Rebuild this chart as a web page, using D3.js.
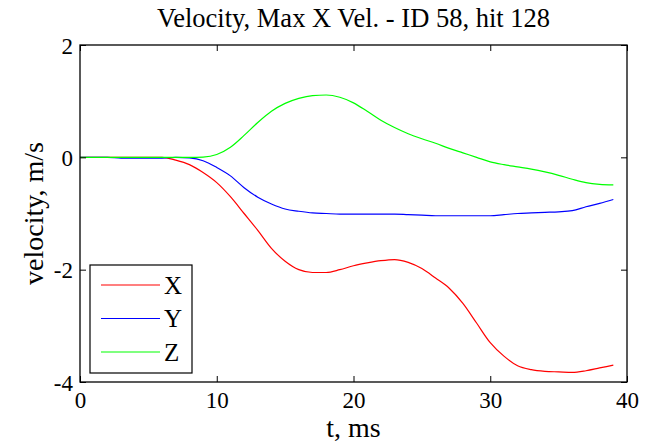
<!DOCTYPE html>
<html>
<head>
<meta charset="utf-8">
<script src="https://cdn.jsdelivr.net/npm/d3@7"></script>
<style>
  html, body { margin: 0; padding: 0; background: #fff; }
  svg { display: block; }
  svg text { font-family: "Liberation Serif", "Times New Roman", serif; fill: #000; }
</style>
</head>
<body>
<svg id="chart" width="646" height="444"></svg>
<script>
// Time samples, ms
const tMs = [0,1,2,3,4,5,6,7,8,9,10,11,12,13,14,15,16,17,18,19,20,21,22,23,24,25,26,27,28,29,30,31,32,33,34,35,36,37,38,39];

// Velocity components, m/s
const velX = [0,0,0,0,0,0,0,-0.05,-0.13,-0.27,-0.45,-0.70,-1.00,-1.30,-1.62,-1.85,-2.00,-2.05,-2.05,-2.00,
  -1.93,-1.88,-1.84,-1.82,-1.87,-1.98,-2.15,-2.33,-2.60,-2.95,-3.30,-3.54,-3.71,-3.78,-3.81,-3.82,-3.83,-3.80,-3.75,-3.70];
const velY = [0,0,0,-0.015,-0.015,-0.015,-0.015,0,-0.01,-0.06,-0.18,-0.33,-0.54,-0.71,-0.83,-0.92,-0.96,-0.99,-1.00,-1.01,
  -1.01,-1.01,-1.01,-1.01,-1.02,-1.03,-1.04,-1.04,-1.04,-1.04,-1.04,-1.02,-1.00,-0.99,-0.98,-0.97,-0.95,-0.88,-0.82,-0.75];
const velZ = [0,0,0,0,0,0,0,0,0,0.005,0.05,0.18,0.39,0.62,0.82,0.96,1.05,1.10,1.11,1.07,
  0.97,0.82,0.66,0.53,0.42,0.33,0.25,0.16,0.08,0.0,-0.08,-0.13,-0.17,-0.21,-0.26,-0.32,-0.39,-0.45,-0.48,-0.49];

const seriesNames = ["X", "Y", "Z"];
const seriesColors = ["#ff0000", "#0000ff", "#00ff00"];
const seriesValues = [velX, velY, velZ];

const xTicks = [0, 10, 20, 30, 40];
const yTicks = [-4, -2, 0, 2];

const titleText = "Velocity, Max X Vel. - ID 58, hit 128";
const xLabel = "t, ms";
const yLabel = "velocity, m/s";

const svg = d3.select("#chart");
const plot = { left: 80, right: 627, top: 45, bottom: 382 };

const x = d3.scaleLinear().domain([0, 40]).range([plot.left, plot.right]);
const y = d3.scaleLinear().domain([-4, 2]).range([plot.bottom, plot.top]);

// Data lines
const line = d3.line()
  .x(d => x(d[0]))
  .y(d => y(d[1]))
  .curve(d3.curveMonotoneX);

seriesValues.forEach((vals, i) => {
  svg.append("path")
    .datum(tMs.map((t, k) => [t, vals[k]]))
    .attr("fill", "none")
    .attr("stroke", seriesColors[i])
    .attr("stroke-width", 1.2)
    .attr("d", line);
});

// Axes box with inward ticks on all four sides
const tickLen = 6;
const tickFont = 23;
const plainNum = d => String(d);

const axBottom = d3.axisBottom(x).tickValues(xTicks).tickFormat(plainNum).tickSizeInner(-tickLen).tickSizeOuter(0);
const axTop = d3.axisTop(x).tickValues(xTicks).tickSizeInner(-tickLen).tickSizeOuter(0).tickFormat("");
const axLeft = d3.axisLeft(y).tickValues(yTicks).tickFormat(plainNum).tickSizeInner(-tickLen).tickSizeOuter(0);
const axRight = d3.axisRight(y).tickValues(yTicks).tickSizeInner(-tickLen).tickSizeOuter(0).tickFormat("");

function styleAxis(g) {
  g.attr("font-family", null).attr("font-size", null);
  g.select(".domain").remove();
  g.selectAll(".tick line").attr("stroke", "#000").attr("stroke-width", 1);
  g.selectAll(".tick text")
    .attr("fill", "#000")
    .style("font-family", "'Liberation Serif', 'Times New Roman', serif")
    .style("font-size", tickFont + "px");
}

svg.append("g").attr("transform", `translate(0,${plot.bottom})`).call(axBottom).call(styleAxis)
  .selectAll(".tick text").attr("dy", null).attr("y", 26);
svg.append("g").attr("transform", `translate(0,${plot.top})`).call(axTop).call(styleAxis);
svg.append("g").attr("transform", `translate(${plot.left},0)`).call(axLeft).call(styleAxis)
  .selectAll(".tick text").attr("x", -7).attr("dy", "0.36em");
svg.append("g").attr("transform", `translate(${plot.right},0)`).call(axRight).call(styleAxis);

svg.append("rect")
  .attr("x", plot.left).attr("y", plot.top)
  .attr("width", plot.right - plot.left).attr("height", plot.bottom - plot.top)
  .attr("fill", "none").attr("stroke", "#000").attr("stroke-width", 1.3);

// Title and axis labels
svg.append("text")
  .attr("x", (plot.left + plot.right) / 2).attr("y", 27)
  .attr("text-anchor", "middle").style("font-size", "26.5px")
  .text(titleText);

svg.append("text")
  .attr("x", (plot.left + plot.right) / 2).attr("y", 437)
  .attr("text-anchor", "middle").style("font-size", "28px")
  .text(xLabel);

svg.append("text")
  .attr("transform", `translate(43,${(plot.top + plot.bottom) / 2}) rotate(-90)`)
  .attr("text-anchor", "middle").style("font-size", "28px")
  .text(yLabel);

// Legend
const legend = { x: 90, y: 265, w: 102, h: 108, rowH: 33.5 };
const lg = svg.append("g");
lg.append("rect")
  .attr("x", legend.x).attr("y", legend.y).attr("width", legend.w).attr("height", legend.h)
  .attr("fill", "#fff").attr("stroke", "#000").attr("stroke-width", 1.2);

seriesNames.forEach((name, i) => {
  const cy = legend.y + 20 + i * legend.rowH;
  lg.append("line")
    .attr("x1", legend.x + 11).attr("x2", legend.x + 70)
    .attr("y1", cy).attr("y2", cy)
    .attr("stroke", seriesColors[i]).attr("stroke-width", 1.2);
  lg.append("text")
    .attr("x", legend.x + 74).attr("y", cy).attr("dy", "0.35em")
    .style("font-size", "25px")
    .text(name);
});
</script>
</body>
</html>
